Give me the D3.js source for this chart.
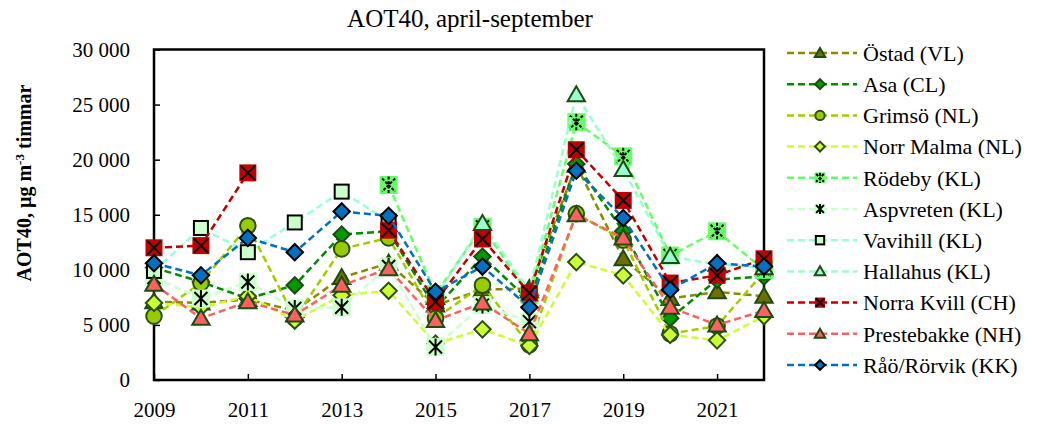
<!DOCTYPE html>
<html>
<head>
<meta charset="utf-8">
<script src="https://cdn.jsdelivr.net/npm/d3@7"></script>
<style>
    body { margin: 0; background: #fff; }
    svg text { font-family: "Liberation Serif", "DejaVu Serif", serif !important; fill: #000; }
</style>
</head>
<body>
<svg id="chart" width="1040" height="425"></svg>
<script>
// years on the x axis
const years = [2009, 2010, 2011, 2012, 2013, 2014, 2015, 2016, 2017, 2018, 2019, 2020, 2021, 2022];
const xTickYears = [2009, 2011, 2013, 2015, 2017, 2019, 2021];
const yTicks = [0, 5000, 10000, 15000, 20000, 25000, 30000];

// AOT40 values per station (µg m-3 timmar), null = no data
const ostad       = [7100, 7000, 7300, 6300, 9300, 10600, 6800, 8200, 8300, 19500, 11000, 7400, 8000, 7600];
const asa         = [10200, 8900, 7400, 8600, 13200, 13500, 6500, 11200, 7200, 19600, 13500, 5600, 9100, 9400];
const grimso      = [5800, 8800, 14000, 5600, 11900, 12900, 5600, 8600, 3200, 15100, 12700, 4200, 4900, 9800];
const norrMalma   = [7000, 6600, 7600, 5400, 7700, 8100, 3300, 4600, 3100, 10700, 9500, 4100, 3600, 5800];
const rodeby      = [null, null, null, null, null, 17700, 7800, 13900, 7700, 23400, 20300, 11300, 13500, 10000];
const aspvreten   = [9300, 7400, 8900, 6500, 6600, 10300, 3000, 6800, 5300, null, null, null, null, null];
const vavihill    = [9900, 13800, 11600, 14300, 17100, 14400, null, null, null, null, null, null, null, null];
const hallahus    = [null, null, null, null, null, null, 7500, 14200, 8100, 25900, 19100, 11200, 10500, 10200];
const norraKvill  = [12000, 12200, 18800, null, null, 13600, 7100, 12800, 7900, 20900, 16300, 8800, 9500, 11000];
const prestebakke = [8700, 5600, 7100, 5900, 8600, 10100, 5400, 7000, 4200, 15000, 12900, 6600, 5000, 6300];
const raoRorvik   = [10600, 9500, 12900, 11600, 15300, 14900, 8000, 10300, 6600, 19000, 14700, 8200, 10600, 10300];

const names = ['Östad (VL)', 'Asa (CL)', 'Grimsö (NL)', 'Norr Malma (NL)', 'Rödeby (KL)', 'Aspvreten (KL)',
    'Vavihill (KL)', 'Hallahus (KL)', 'Norra Kvill (CH)', 'Prestebakke (NH)', 'Råö/Rörvik (KK)'];
const values = [ostad, asa, grimso, norrMalma, rodeby, aspvreten, vavihill, hallahus, norraKvill, prestebakke, raoRorvik];

// look of each series: line colour, marker kind, marker fill, marker edge
const styles = [
    { line: '#8a8a00', marker: 'triangle', fill: '#6f6f00', edge: '#1f4a12' },
    { line: '#008a00', marker: 'diamond',  fill: '#009a00', edge: '#1f4a12' },
    { line: '#a0cc00', marker: 'circle',   fill: '#99cc00', edge: '#2a5010' },
    { line: '#ccff33', marker: 'diamond',  fill: '#ccff33', edge: '#2a5010' },
    { line: '#66ff66', marker: 'starBox',  fill: '#66ff66', edge: '#000', dotted: true },
    { line: '#ccffcc', marker: 'starBox',  fill: '#ccffcc', edge: '#000' },
    { line: '#99ffdd', marker: 'square',   fill: '#ccffcc', edge: '#000' },
    { line: '#99ffcc', marker: 'triangle', fill: '#99ffcc', edge: '#1f4a12' },
    { line: '#c00000', marker: 'crossBox', fill: '#c00000', edge: '#000' },
    { line: '#ff6060', marker: 'triangle', fill: '#ff6060', edge: '#1f4a12' },
    { line: '#0070c0', marker: 'diamond',  fill: '#0070c0', edge: '#000' }
];

const serif = '"Liberation Serif", "DejaVu Serif", serif';
const svg = d3.select('#chart');
const plot = { left: 154, right: 764, top: 49.5, bottom: 380 };

const x = d3.scaleLinear().domain([2009, 2022]).range([plot.left, plot.right]);
const y = d3.scaleLinear().domain([0, 30000]).range([plot.bottom, plot.top]);

// title
svg.append('text')
    .attr('x', 470).attr('y', 27)
    .attr('text-anchor', 'middle')
    .style('font-family', serif)
    .style('font-size', '25px')
    .text('AOT40, april-september');

// y axis title
let yTitle = svg.append('text')
    .attr('transform', 'translate(31,' + 183 + ') rotate(-90)')
    .attr('text-anchor', 'middle')
    .style('font-family', serif)
    .style('font-size', '20px')
    .style('font-weight', 'bold');
yTitle.append('tspan').text('AOT40, µg m');
yTitle.append('tspan').attr('dy', '-7').style('font-size', '13px').text('-3');
yTitle.append('tspan').attr('dy', '7').text(' timmar');

// axes with inward ticks
const fmt = d => d3.format(',')(d).replace(/,/g, ' ');

svg.append('g')
    .attr('transform', 'translate(' + plot.left + ',0)')
    .call(d3.axisLeft(y).tickValues(yTicks).tickSize(-6).tickPadding(24).tickFormat(fmt))
    .call(g => g.select('.domain').remove())
    .call(g => g.selectAll('.tick line').attr('stroke-width', 1.5))
    .call(g => g.selectAll('text').style('font-family', serif).style('font-size', '21px'));

svg.append('g')
    .attr('transform', 'translate(0,' + plot.bottom + ')')
    .call(d3.axisBottom(x).tickValues(xTickYears).tickSize(-6).tickPadding(22).tickFormat(d3.format('d')))
    .call(g => g.select('.domain').remove())
    .call(g => g.selectAll('.tick line').attr('stroke-width', 1.5))
    .call(g => g.selectAll('text').style('font-family', serif).style('font-size', '21px'));

// plot frame
svg.append('rect')
    .attr('x', plot.left).attr('y', plot.top)
    .attr('width', plot.right - plot.left).attr('height', plot.bottom - plot.top)
    .attr('fill', 'none').attr('stroke', '#000').attr('stroke-width', 2.5);

function drawMarker(g, st, k) {
    if (st.marker === 'triangle') {
        g.append('path').attr('d', d3.symbol(d3.symbolTriangle, 130 * k * k)())
            .attr('transform', 'translate(0,' + (1.5 * k) + ')')
            .attr('fill', st.fill).attr('stroke', st.edge).attr('stroke-width', 2);
    } else if (st.marker === 'diamond') {
        g.append('path').attr('d', d3.symbol(d3.symbolSquare, 135 * k * k)())
            .attr('transform', 'rotate(45)')
            .attr('fill', st.fill).attr('stroke', st.edge).attr('stroke-width', 2);
    } else if (st.marker === 'circle') {
        g.append('circle').attr('r', 7.8 * k)
            .attr('fill', st.fill).attr('stroke', st.edge).attr('stroke-width', 2);
    } else if (st.marker === 'square') {
        g.append('rect').attr('x', -7 * k).attr('y', -7 * k).attr('width', 14 * k).attr('height', 14 * k)
            .attr('fill', st.fill).attr('stroke', st.edge).attr('stroke-width', 2);
    } else if (st.marker === 'crossBox') {
        g.append('rect').attr('x', -8.5 * k).attr('y', -8.5 * k).attr('width', 17 * k).attr('height', 17 * k)
            .attr('fill', st.fill);
        g.append('path')
            .attr('d', 'M' + (-7 * k) + ',' + (-7 * k) + 'L' + (7 * k) + ',' + (7 * k) +
                'M' + (7 * k) + ',' + (-7 * k) + 'L' + (-7 * k) + ',' + (7 * k))
            .attr('stroke', st.edge).attr('stroke-width', 2);
    } else if (st.marker === 'starBox') {
        g.append('rect').attr('x', -9 * k).attr('y', -9 * k).attr('width', 18 * k).attr('height', 18 * k)
            .attr('fill', st.fill);
        g.append('path')
            .attr('d', 'M' + (-6.5 * k) + ',' + (-6.5 * k) + 'L' + (6.5 * k) + ',' + (6.5 * k) +
                'M' + (6.5 * k) + ',' + (-6.5 * k) + 'L' + (-6.5 * k) + ',' + (6.5 * k) +
                'M0,' + (-8.5 * k) + 'L0,' + (8.5 * k))
            .attr('stroke', st.edge).attr('stroke-width', 2)
            .attr('stroke-dasharray', st.dotted ? '3 1.5' : null);
    }
}

// series lines and markers, later series drawn on top
let line = d3.line()
    .defined(d => d.v != null)
    .x(d => x(d.year))
    .y(d => y(d.v));

values.forEach(function(vals, i) {
    let st = styles[i];
    let pts = years.map((yr, j) => ({ year: yr, v: vals[j] }));
    let g = svg.append('g');

    g.append('path')
        .attr('d', line(pts))
        .attr('fill', 'none')
        .attr('stroke', st.line)
        .attr('stroke-width', 2.5)
        .attr('stroke-dasharray', '7 4');

    pts.filter(d => d.v != null).forEach(function(d) {
        let m = g.append('g').attr('transform', 'translate(' + x(d.year) + ',' + y(d.v) + ')');
        drawMarker(m, st, 1);
    });
});

// legend
let legend = svg.append('g').attr('transform', 'translate(787,53)');

names.forEach(function(name, i) {
    let st = styles[i];
    let row = legend.append('g').attr('transform', 'translate(0,' + (i * 31.2) + ')');
    row.append('line')
        .attr('x1', 0).attr('x2', 70)
        .attr('stroke', st.line).attr('stroke-width', 2.5)
        .attr('stroke-dasharray', '7 4');
    drawMarker(row.append('g').attr('transform', 'translate(33,0)'), st, 0.6);
    row.append('text')
        .attr('x', 76).attr('dy', '0.35em')
        .style('font-family', serif)
        .style('font-size', '22px')
        .text(name);
});
</script>
</body>
</html>
